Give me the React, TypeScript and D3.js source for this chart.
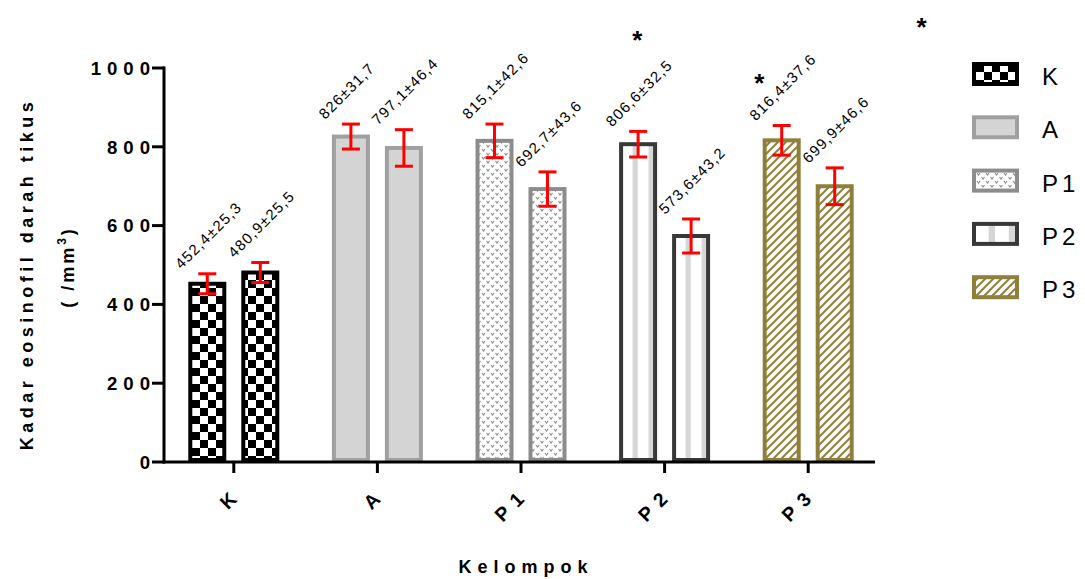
import React from "react";
import * as d3 from "d3";

const groups = ["K", "A", "P1", "P2", "P3"];
const legendLabels = ["K", "A", "P1", "P2", "P3"];
const meanA = [452.4, 826, 815.1, 806.6, 816.4];
const meanB = [480.9, 797.1, 692.7, 573.6, 699.9];
const sdA = [25.3, 31.7, 42.6, 32.5, 37.6];
const sdB = [25.5, 46.4, 43.6, 43.2, 46.6];
const yTicks = [0, 200, 400, 600, 800, 1000];
// significance markers: position in group units (0 = K centre) and value units
const starGroupPos = [2.81, 3.66, 4.79];
const starValue = [1048, 939, 1081];

const fmt = (v: number) => String(v).replace(".", ",");

const FONT = "'Liberation Sans', Arial, sans-serif";

export default function App() {
  const W = 1085, H = 579;
  const y = d3.scaleLinear().domain([0, 1000]).range([462, 68]);
  const x = d3.scaleBand<string>().domain(groups).range([162, 880]).padding(0);
  const xg = d3.scaleLinear().domain([0, 1]).range([162 + x.bandwidth() / 2, 162 + x.bandwidth() * 1.5]);
  const barOff = 26.5;
  const barW = 34;
  const strokes = ["#000000", "#a0a0a3", "#8c8c8c", "#383838", "#8f7f3c"];
  const fills = ["url(#pK)", "#d4d4d4", "url(#pP1)", "url(#pP2)", "url(#pP3)"];

  const bars: any[] = [];
  groups.forEach((g, i) => {
    const c = (x(g) as number) + x.bandwidth() / 2;
    [[meanA[i], sdA[i], -barOff], [meanB[i], sdB[i], barOff]].forEach(([m, s, off], j) => {
      bars.push({ g, i, j, cx: c + (off as number), m: m as number, s: s as number });
    });
  });

  const rot = (tx: number, ty: number) => `matrix(0.7071,-0.7071,0.7071,0.7071,${tx},${ty})`;

  return (
    <svg width={W} height={H} style={{ position: "absolute", left: 0, top: 0, background: "#fff" }} fontFamily={FONT}>
      <defs>
        <pattern id="pK" width="16" height="16" patternUnits="userSpaceOnUse" x="0" y="0">
          <rect width="16" height="16" fill="#fff" />
          <rect x="0" y="0" width="8" height="8" fill="#000" />
          <rect x="8" y="8" width="8" height="8" fill="#000" />
        </pattern>
        <pattern id="pP1" width="9" height="8" patternUnits="userSpaceOnUse">
          <rect width="9" height="8" fill="#fff" />
          <path d="M0.5,1 l1.5,2 l1.5,-2 M5,5 l1.5,2 l1.5,-2" stroke="#8a8a8a" strokeWidth="1.1" fill="none" />
        </pattern>
        <pattern id="pP2" width="1" height="1" patternUnits="objectBoundingBox" patternContentUnits="objectBoundingBox">
          <rect width="1" height="1" fill="#fff" />
          <rect x="0.34" y="0" width="0.15" height="1" fill="#d6d6d6" />
          <rect x="0.81" y="0" width="0.15" height="1" fill="#d6d6d6" />
        </pattern>
        <pattern id="pP3" width="8" height="8" patternUnits="userSpaceOnUse">
          <rect width="8" height="8" fill="#fff" />
          <path d="M-2,2 L2,-2 M0,8 L8,0 M6,10 L10,6" stroke="#8f7f3c" strokeWidth="2" />
        </pattern>
      </defs>

      {/* bars */}
      {bars.map((b, k) => (
        <rect key={"b" + k} x={b.cx - barW / 2} y={y(b.m)} width={barW} height={y(0) - y(b.m) - 2}
          fill={fills[b.i]} stroke={strokes[b.i]} strokeWidth={4} />
      ))}

      {/* error bars */}
      {bars.map((b, k) => (
        <g key={"e" + k} stroke="#ff0000" strokeWidth={3}>
          <line x1={b.cx} x2={b.cx} y1={y(b.m + b.s)} y2={y(b.m - b.s)} />
          <line x1={b.cx - 9} x2={b.cx + 9} y1={y(b.m + b.s)} y2={y(b.m + b.s)} />
          <line x1={b.cx - 9} x2={b.cx + 9} y1={y(b.m - b.s)} y2={y(b.m - b.s)} />
        </g>
      ))}

      {/* value labels */}
      {bars.map((b, k) => (
        <g key={"v" + k} transform={rot(b.cx - 26, y(b.m + b.s) - 4)}>
          <text x={0} y={0} fontSize={15} letterSpacing={1.2} fill="#000">
            {fmt(b.m) + "±" + fmt(b.s)}
          </text>
        </g>
      ))}

      {/* stars */}
      {starGroupPos.map((p, k) => (
        <text key={"s" + k} x={xg(p)} y={y(starValue[k])} fontSize={26} fontWeight="bold" textAnchor="middle">*</text>
      ))}

      {/* y axis */}
      <line x1={164} x2={164} y1={y(0) + 1.5} y2={y(1000) - 1.5} stroke="#000" strokeWidth={3} />
      {yTicks.map((t) => (
        <g key={"yt" + t}>
          <line x1={152} x2={164} y1={y(t)} y2={y(t)} stroke="#000" strokeWidth={3} />
          <text x={156} y={y(t) + 6.7} textAnchor="end" fontSize={18.6} fontWeight="bold" letterSpacing={6}>{t}</text>
        </g>
      ))}

      {/* x axis */}
      <line x1={162.5} x2={875} y1={y(0)} y2={y(0)} stroke="#000" strokeWidth={3} />
      {groups.map((g) => {
        const c = (x(g) as number) + x.bandwidth() / 2;
        return (
          <g key={"xt" + g}>
            <line x1={c} x2={c} y1={y(0)} y2={y(0) + 11} stroke="#000" strokeWidth={3} />
            <g transform={rot(c + 5, 490)}>
              <text x={0} y={0} dy="0.35em" textAnchor="end" fontSize={19.5} fontWeight="bold" letterSpacing={8}>{g}</text>
            </g>
          </g>
        );
      })}

      {/* axis titles */}
      <text x={526} y={573} textAnchor="middle" fontSize={18} fontWeight="bold" letterSpacing={6}>Kelompok</text>
      <text transform={`translate(33 274) rotate(-90)`} textAnchor="middle" fontSize={18} fontWeight="bold" letterSpacing={4.5}>Kadar eosinofil darah tikus</text>
      <text transform={`translate(74 267) rotate(-90)`} textAnchor="middle" fontSize={18} fontWeight="bold" letterSpacing={3}>
        <tspan>( /mm</tspan><tspan dy={-8} fontSize={12}>3</tspan><tspan dy={8}>)</tspan>
      </text>

      {/* legend */}
      {legendLabels.map((l, i) => {
        const top = 62 + i * 53.3;
        return (
          <g key={"lg" + i}>
            <rect x={974} y={top + 2} width={43} height={20} fill={fills[i]} stroke={strokes[i]} strokeWidth={4} />
            <text x={1042} y={top + 23} fontSize={24} letterSpacing={4}>{l}</text>
          </g>
        );
      })}
    </svg>
  );
}
